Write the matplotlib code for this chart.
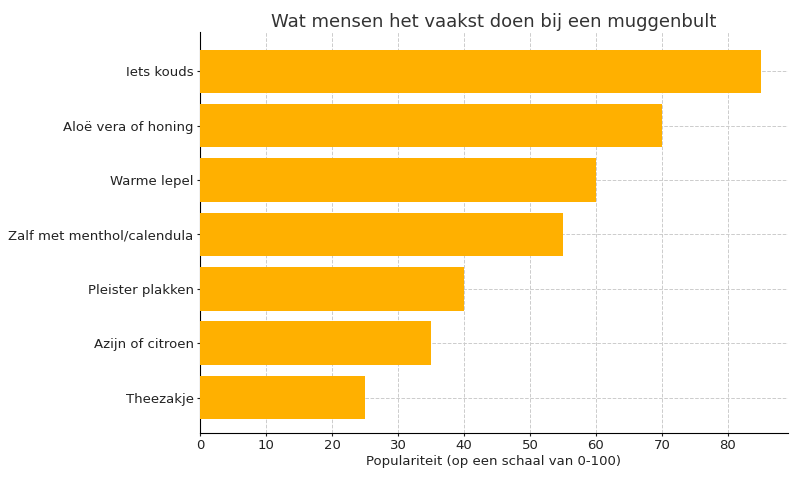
import matplotlib
matplotlib.use("Agg")
import matplotlib.pyplot as plt

categories = ["Iets kouds", "Aloë vera of honing", "Warme lepel", "Zalf met menthol/calendula",
              "Pleister plakken", "Azijn of citroen", "Theezakje"]
values = [85, 70, 60, 55, 40, 35, 25]

fig = plt.figure(figsize=(8, 4.8), dpi=100)
ax = fig.add_axes([0.25, 0.098, 0.735, 0.835])
ax.barh(categories[::-1], values[::-1], color="#FFB000", height=0.8, zorder=3)
ax.set_xlim(0, 89.1)
ax.set_ylim(-0.65, 6.72)
ax.grid(True, linestyle="--", color="#cccccc", linewidth=0.7, zorder=0)
for s in ["top", "right"]:
    ax.spines[s].set_visible(False)
ax.set_title("Wat mensen het vaakst doen bij een muggenbult", fontsize=13, color="#333333", pad=4)
ax.set_xlabel("Populariteit (op een schaal van 0-100)", fontsize=9.5, color="#222222", labelpad=2)
ax.tick_params(labelsize=9.5, colors="#222222", length=2.5, pad=2)
fig.savefig("out.png", dpi=100)
